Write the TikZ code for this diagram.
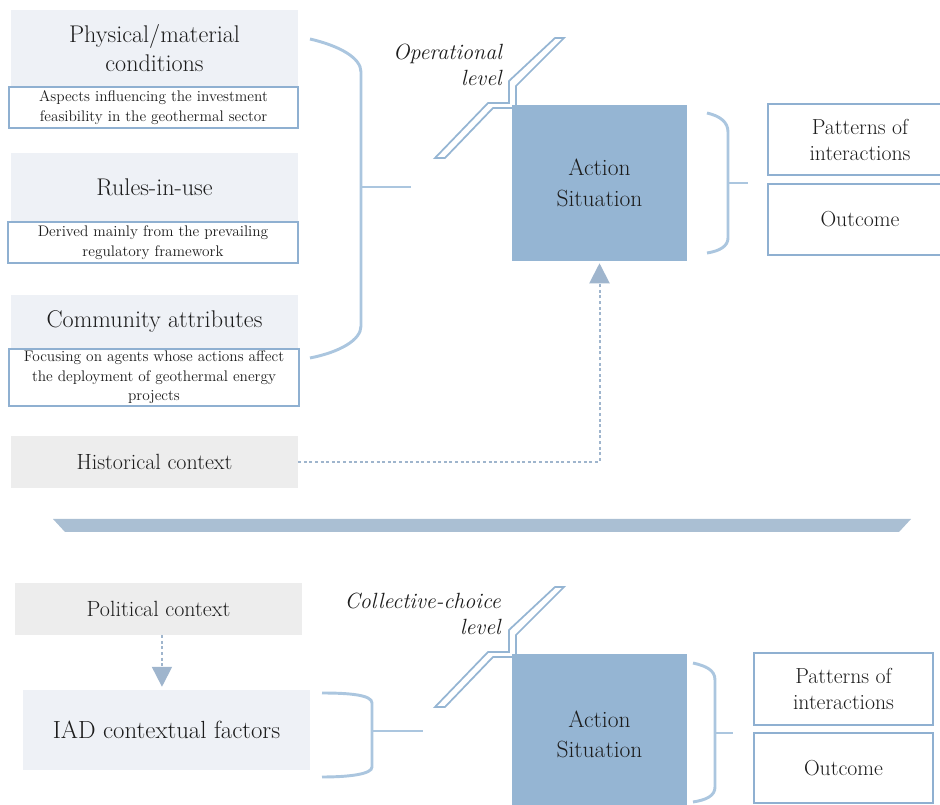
\documentclass[tikz,border=0pt]{standalone}
\usepackage{fontspec}
\usetikzlibrary{arrows.meta}

\definecolor{paneblue}{HTML}{EEF1F6}
\definecolor{panegray}{HTML}{EDEDED}
\definecolor{edgeblue}{HTML}{8FB0D1}
\definecolor{braceblue}{HTML}{ABC6DF}
\definecolor{actblue}{HTML}{95B5D3}
\definecolor{linkblue}{HTML}{9FB5CD}
\definecolor{barblue}{HTML}{AABFD3}
\definecolor{ink}{HTML}{1C1C1C}

\tikzset{
  % place a rectangle node by its corners (x1,y1) (x2,y2), in pixel units
  span/.style n args={4}{at={({(#1+#3)/2},{(#2+#4)/2})},
    minimum width={(#3-#1)*0.75pt}, minimum height={(#4-#2)*0.75pt}},
  every node/.style={text=ink, inner sep=0pt, align=center},
  pane/.style={fill=paneblue, font=\fontsize{18.1}{21.8}\selectfont},
  ctx/.style={fill=panegray, font=\fontsize{16.5}{20}\selectfont},
  note/.style={draw=edgeblue, line width=1.5pt, fill=white,
    font=\fontsize{11.5}{14.6}\selectfont},
  action/.style={fill=actblue, font=\fontsize{17.6}{23}\selectfont},
  result/.style={draw=edgeblue, line width=1.8pt, fill=white,
    font=\fontsize{16.3}{19.5}\selectfont},
  levelname/.style={align=right, anchor=east,
    font=\fontsize{16.5}{20}\selectfont\itshape},
  brace/.style={draw=braceblue, line width=2.2pt},
  link/.style={draw=linkblue, line width=1.5pt,
    dash pattern=on 2.2pt off 2pt,
    -{Triangle[width=15pt,length=15pt]}},
  boltline/.style={draw=actblue, line width=1.3pt, fill=white, line join=miter},
  bolt/.pic={
    \path[boltline] (435,158) -- (488,103) -- (509,103) -- (509,81)
      -- (555,38) -- (564,38) -- (516,86) -- (516,108) -- (493,108)
      -- (445,158) -- cycle;
  }
}

\begin{document}
\begin{tikzpicture}[x=0.75pt,y=-0.75pt]
\useasboundingbox (0,0) rectangle (940,805);
\clip (0,0) rectangle (940,805);

% ---------------- operational level ----------------
\node[pane, span={11}{10}{298}{87}] (phys) {Physical/material\\conditions};
\node[note, span={9}{87}{298}{128}] (physnote)
  {Aspects influencing the investment\\feasibility in the geothermal sector};

\node[pane, span={11}{153}{298}{222}] (rules) {Rules-in-use};
\node[note, span={8}{222}{298}{263}] (rulesnote)
  {Derived mainly from the prevailing\\regulatory framework};

\node[pane, span={11}{295}{298}{349}] (comm) {Community attributes};
\node[note, span={9}{349}{299}{406}] (commnote)
  {Focusing on agents whose actions affect\\the deployment of geothermal energy\\projects};

\node[ctx, span={11}{436}{298}{488}] (hist) {Historical context};

% bracket gathering the three attribute groups
\path[brace] (310,39) .. controls (340,46) and (361,58) .. (361,72)
  -- (361,326) .. controls (361,340) and (340,352) .. (310,358);
\path[brace] (361,187) -- (411,187);

\pic at (0,0) {bolt};
\node[levelname] (oplevel) at (502,65) {Operational\\level};

\node[action, span={512}{105}{687}{261}] (act1) {Action\\Situation};

\path[brace] (707,113) .. controls (720,116) and (728,122) .. (728,132)
  -- (728,238) .. controls (728,246) and (720,251) .. (707,253);
\path[brace] (728,183) -- (748,183);

\node[result, span={768}{104}{952}{175}] (pat1) {Patterns of\\interactions};
\node[result, span={768}{184}{952}{255}] (out1) {Outcome};

\draw[link, shorten >=1.5pt] (hist.east) -| (act1.south);

% ---------------- separator ----------------
\fill[barblue] (53,519) -- (911,519) -- (899,532) -- (65,532) -- cycle;

% ---------------- collective-choice level ----------------
\node[ctx, span={15}{583}{302}{635}] (pol) {Political context};
\node[pane, span={23}{690}{310}{770}, font=\fontsize{18.6}{22}\selectfont] (iad)
  {IAD contextual factors};

\draw[link, shorten >=2.2pt] ([xshift=2.6pt]pol.south)
  -- ([xshift=2.6pt]pol.south |- iad.north);

\path[brace] (322,693) .. controls (350,693) and (372,695) .. (372,703)
  -- (372,767) .. controls (372,774) and (350,777) .. (322,777);
\path[brace] (372,731) -- (423,731);

\pic at (0,549) {bolt};
\node[levelname] (cclevel) at (501,614) {Collective-choice\\level};

\node[action, span={512}{654}{687}{815}] (act2) {Action\\Situation};

\path[brace] (693,663) .. controls (706,666) and (715,670) .. (715,680)
  -- (715,787) .. controls (715,796) and (706,800) .. (693,802);
\path[brace] (715,733) -- (733,733);

\node[result, span={754}{653}{933}{725}] (pat2) {Patterns of\\interactions};
\node[result, span={754}{733}{933}{803}] (out2) {Outcome};

\end{tikzpicture}
\end{document}
